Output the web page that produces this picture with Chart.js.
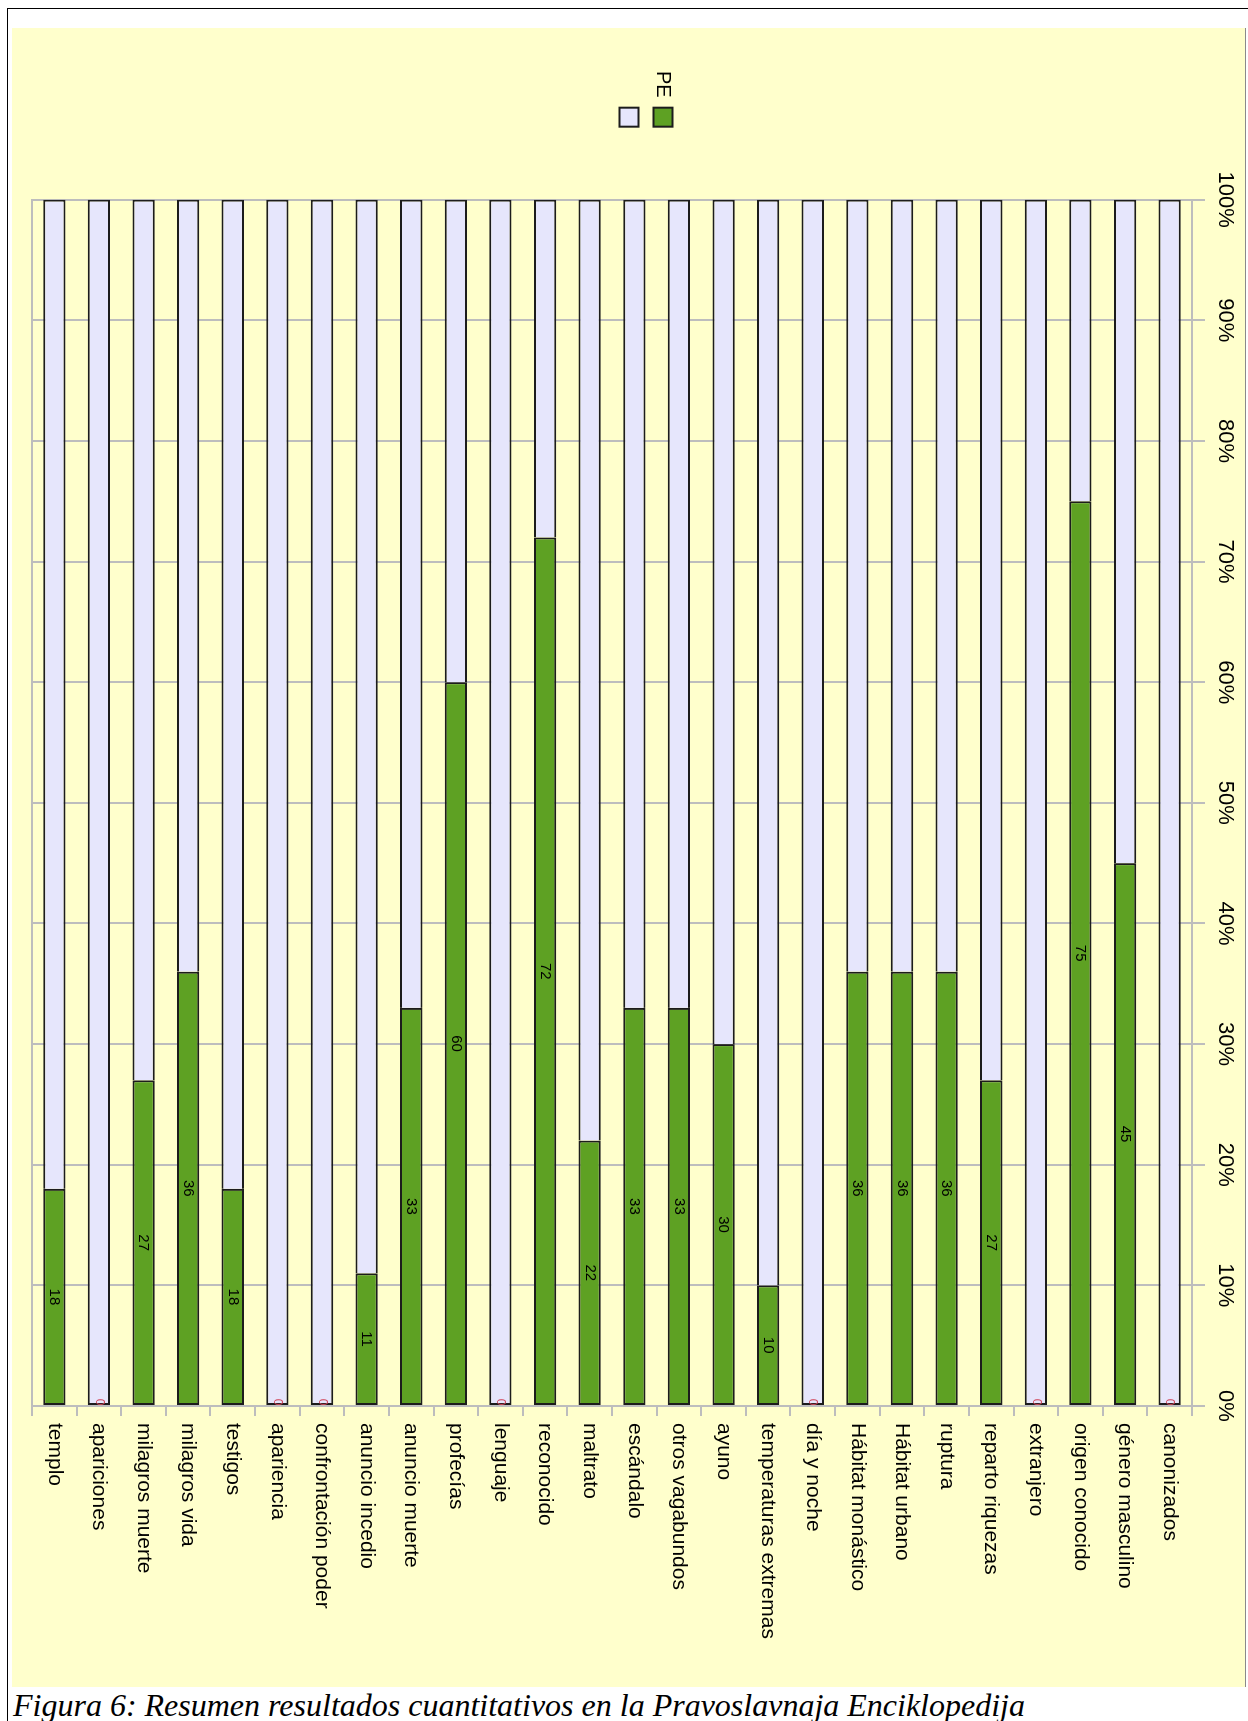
<!DOCTYPE html>
<html>
<head>
<meta charset="utf-8">
<script src="https://cdn.jsdelivr.net/npm/chart.js@4.4.0/dist/chart.umd.min.js"></script>
<style>
  html, body { margin: 0; padding: 0; background: #fff; }
  body { width: 1248px; height: 1721px; position: relative; overflow: hidden; }
  #frame { position: absolute; left: 7px; top: 8px; width: 1300px; height: 1800px;
           border-left: 1px solid #000; border-top: 1px solid #000; }
  #plot { position: absolute; left: 12px; top: 28px; width: 1659px; height: 1234px;
          background: #ffffcc; transform-origin: 0 0; transform: translateX(1234px) rotate(90deg); }
  #edge { position: absolute; left: 1245px; top: 28px; width: 1px; height: 1659px; background: #8a8a8a; }
  #caption { position: absolute; left: 13px; top: 1689px; font: italic 32px 'Liberation Serif', 'Times New Roman', serif;
             line-height: 32px; white-space: nowrap; color: #000; }
</style>
</head>
<body>
<div id="frame"></div>
<div id="plot"><canvas id="chart" width="1659" height="1234"></canvas></div>
<div id="edge"></div>
<div id="caption">Figura 6: Resumen resultados cuantitativos en la Pravoslavnaja Enciklopedija</div>
<script>
// chart values
const categories = ['templo', 'apariciones', 'milagros muerte', 'milagros vida', 'testigos', 'apariencia',
    'confrontación poder', 'anuncio incedio', 'anuncio muerte', 'profecías', 'lenguaje', 'reconocido',
    'maltrato', 'escándalo', 'otros vagabundos', 'ayuno', 'temperaturas extremas', 'día y noche',
    'Hábitat monástico', 'Hábitat urbano', 'ruptura', 'reparto riquezas', 'extranjero',
    'origen conocido', 'género masculino', 'canonizados'];
const peValues = [18, 0, 27, 36, 18, 0, 0, 11, 33, 60, 0, 72, 22, 33, 33, 30, 10, 0, 36, 36, 36, 27, 0, 75, 45, 0];
const restValues = [82, 100, 73, 64, 82, 100, 100, 89, 67, 40, 100, 28, 78, 67, 67, 70, 90, 100, 64, 64, 64, 73, 100, 25, 55, 100];
const valueTicks = [0, 10, 20, 30, 40, 50, 60, 70, 80, 90, 100];

const GRID = '#bdbdbd';
Chart.defaults.font.family = "'Liberation Sans', Arial, sans-serif";
Chart.defaults.color = '#000';

// numbers inside the green bars
const barLabels = {
    id: 'barLabels',
    afterDatasetsDraw(chart) {
        const ctx = chart.ctx;
        const meta = chart.getDatasetMeta(0);
        ctx.save();
        ctx.textAlign = 'center';
        ctx.textBaseline = 'middle';
        meta.data.forEach((bar, i) => {
            const v = peValues[i];
            if (v === 0) {
                ctx.fillStyle = '#d0455a';
                ctx.font = "12px 'Liberation Sans'";
                ctx.fillText('0', bar.base - 4, bar.y);
            } else {
                ctx.fillStyle = '#000';
                ctx.font = "15px 'Liberation Sans'";
                ctx.fillText(String(v), (bar.x + bar.base) / 2, bar.y);
            }
        });
        ctx.restore();
    }
};

new Chart(document.getElementById('chart').getContext('2d'), {
    type: 'bar',
    data: {
        labels: categories,
        datasets: [{
            label: 'PE',
            data: peValues,
            backgroundColor: '#5ea123',
            borderColor: '#1c1c1c',
            borderWidth: 2,
            borderSkipped: false,
            barPercentage: 0.5,
            categoryPercentage: 1
        }, {
            label: '',
            data: restValues,
            backgroundColor: '#e6e6fc',
            borderColor: '#1c1c1c',
            borderWidth: 2,
            borderSkipped: c => peValues[c.dataIndex] === 0 ? false : 'start',
            barPercentage: 0.5,
            categoryPercentage: 1
        }]
    },
    plugins: [barLabels],
    options: {
        indexAxis: 'y',
        responsive: false,
        animation: false,
        devicePixelRatio: 1,
        layout: { padding: { left: 33, top: -14, right: 0, bottom: 20 } },
        scales: {
            x: {
                position: 'top',
                stacked: true,
                reverse: true,
                min: 0,
                max: 100,
                afterBuildTicks: s => { s.ticks = valueTicks.map(v => ({ value: v })); },
                afterFit: s => { s.height = 68; },
                ticks: {
                    font: { size: 22 },
                    padding: 7,
                    maxRotation: 0,
                    callback: v => v + '%'
                },
                grid: { color: GRID, lineWidth: 2, tickLength: 13 },
                border: { display: true, color: GRID, width: 2 }
            },
            x2: {
                type: 'linear',
                axis: 'x',
                position: 'bottom',
                ticks: { display: false },
                grid: { display: false, drawTicks: false },
                border: { display: true, color: GRID, width: 2 }
            },
            y: {
                position: 'right',
                stacked: true,
                reverse: true,
                afterFit: s => { s.width = 281; },
                ticks: { font: { size: 21 }, padding: 7, autoSkip: false },
                grid: { drawOnChartArea: false, color: GRID, lineWidth: 2, tickLength: 10 },
                border: { display: true, color: GRID, width: 2 }
            },
            spacer: {
                type: 'linear',
                axis: 'y',
                position: 'left',
                ticks: { display: false },
                grid: { display: false, drawTicks: false },
                border: { display: false },
                afterFit: s => { s.width = 59; }
            }
        },
        plugins: {
            legend: {
                position: 'left',
                rtl: true,
                labels: { boxWidth: 19, boxHeight: 19, padding: 14, font: { size: 20 }, color: '#000' }
            },
            tooltip: { enabled: false }
        }
    }
});
</script>
</body>
</html>
